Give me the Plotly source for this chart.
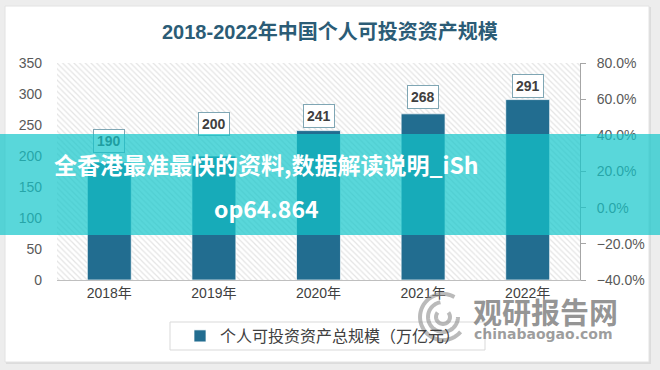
import numpy as np
import plotly.graph_objects as go

# ---------------- data ----------------
years = ["2018年", "2019年", "2020年", "2021年", "2022年"]
assets = [190, 200, 241, 268, 291]
left_ticks = [0, 50, 100, 150, 200, 250, 300, 350]
right_ticks = [-0.4, -0.2, 0.0, 0.2, 0.4, 0.6, 0.8]
title_text = "2018-2022年中国个人可投资资产规模"
series_name = "个人可投资资产总规模（万亿元）"
banner_line1 = "全香港最准最快的资料,数据解读说明_iSh"
banner_line2 = "op64.864"

# ---------------- layout geometry (pixels) ----------------
W, H = 660, 370
PL, PR, PT, PB = 57, 580, 63, 280   # plot area in px
pw, ph = PR - PL, PB - PT


def px(x):
    return (x - PL) / pw


def py(y):
    return (PB - y) / ph


BAR_COLOR = "#226d90"
TXT = "#404040"
TICK_FONT = dict(family="Liberation Sans, Noto Sans CJK SC", size=14, color="#595959")
label_shift = [21, 32, 15, 17, 14]  # pixel offsets of value boxes above bars

fig = go.Figure()

# hatched plot background
fig.add_trace(go.Bar(
    x=years, y=[left_ticks[-1]] * len(years), width=1,
    marker=dict(color="white", line_width=0,
                pattern=dict(shape="\\", fgcolor="#c9c9c9", size=4, solidity=0.3,
                             fillmode="overlay")),
    showlegend=False, hoverinfo="skip"))

# main bars
fig.add_trace(go.Bar(
    x=years, y=assets, width=0.42, name=series_name,
    marker=dict(color=BAR_COLOR, line=dict(color="rgba(255,255,255,0.7)", width=1)),
    showlegend=True))

# invisible trace on the secondary (percentage) axis
fig.add_trace(go.Scatter(x=years, y=[None] * len(years), yaxis="y2",
                         mode="lines", showlegend=False, hoverinfo="skip"))

shapes = []
# card shadow + card
shapes.append(dict(type="rect", xref="paper", yref="paper", layer="below",
                   x0=px(6), x1=px(651), y0=py(364), y1=py(7),
                   fillcolor="#dcdcdc", line_width=0))
shapes.append(dict(type="rect", xref="paper", yref="paper", layer="below",
                   x0=px(5), x1=px(649), y0=py(362), y1=py(6),
                   fillcolor="white", line=dict(color="#e2e2e2", width=1)))
# legend frame
shapes.append(dict(type="rect", xref="paper", yref="paper", layer="above",
                   x0=px(170), x1=px(485), y0=py(350), y1=py(322),
                   fillcolor="rgba(0,0,0,0)", line=dict(color="#d9d9d9", width=1)))

# watermark logo (swirl arcs)
cx, cy = 443, 317
for r, a0, a1 in [(23, 60, 320), (15, 100, 360), (7, 140, 400)]:
    t = np.radians(np.linspace(a0, a1, 40))
    xs = cx + r * np.cos(t)
    ys = cy - r * np.sin(t)
    path = "M " + " L ".join(f"{px(a):.4f},{py(b):.4f}" for a, b in zip(xs, ys))
    shapes.append(dict(type="path", xref="paper", yref="paper", layer="above",
                       path=path, line=dict(color="rgba(140,140,140,0.6)", width=4)))

annotations = []
# title
annotations.append(dict(xref="paper", yref="paper", x=px(330), y=py(32),
                        xanchor="center", yanchor="middle", showarrow=False,
                        text="<b>" + title_text + "</b>",
                        font=dict(family="Liberation Sans, Noto Sans CJK SC", size=20,
                                  color="#2b5c76")))
# value labels
for yr, v, s in zip(years, assets, label_shift):
    annotations.append(dict(x=yr, y=v, xref="x", yref="y", yshift=s,
                            xanchor="center", yanchor="middle", showarrow=False,
                            text=f"<b>{v}</b>",
                            font=dict(family="Liberation Sans", size=14, color=TXT),
                            bgcolor="white", bordercolor="#7fa6b4", borderwidth=1,
                            borderpad=3))
# banner background
annotations.append(dict(xref="paper", yref="paper", x=px(330), y=py(184.5),
                        xanchor="center", yanchor="middle", showarrow=False,
                        text=" ", width=W, height=101, borderpad=0, borderwidth=0,
                        bgcolor="rgba(19,198,202,0.70)",
                        font=dict(size=10, color="white")))
# banner text
for txt, yy in [(banner_line1, 164), (banner_line2, 208)]:
    annotations.append(dict(xref="paper", yref="paper", x=px(266), y=py(yy),
                            xanchor="center", yanchor="middle", showarrow=False,
                            text="<b>" + txt + "</b>",
                            font=dict(family="Noto Sans CJK SC", size=23, color="white")))
# watermark text
annotations.append(dict(xref="paper", yref="paper", x=px(545), y=py(311),
                        xanchor="center", yanchor="middle", showarrow=False,
                        text="<b>观研报告网</b>",
                        font=dict(family="Noto Sans CJK SC", size=29,
                                  color="rgba(120,120,120,0.78)")))
annotations.append(dict(xref="paper", yref="paper", x=px(543), y=py(334),
                        xanchor="center", yanchor="middle", showarrow=False,
                        text="<b>chinabaogao.com</b>",
                        font=dict(family="DejaVu Sans", size=14,
                                  color="rgba(120,120,120,0.72)")))

fig.update_layout(
    width=W, height=H,
    margin=dict(l=PL, r=W - PR, t=PT, b=H - PB),
    paper_bgcolor="#ededed", plot_bgcolor="white",
    barmode="overlay",
    xaxis=dict(type="category", range=[-0.5, 4.5], showline=True, linecolor="#bfbfbf",
               linewidth=1, ticks="", showgrid=False, zeroline=False,
               tickfont=dict(family="Liberation Sans, Noto Sans CJK SC", size=14, color=TXT)),
    yaxis=dict(range=[0, 350], tickvals=left_ticks, showgrid=False, showline=False,
               zeroline=False, ticks="", tickfont=TICK_FONT, ticklabelstandoff=14),
    yaxis2=dict(overlaying="y", side="right", range=[-0.4, 0.8], tickvals=right_ticks,
                tickformat=".1%", showline=True, linecolor="#a6a6a6", linewidth=1,
                ticks="outside", ticklen=5, tickcolor="#a6a6a6", showgrid=False,
                zeroline=False, tickfont=TICK_FONT, ticklabelstandoff=8),
    legend=dict(x=px(180), y=py(336), xanchor="left", yanchor="middle",
                orientation="h", bgcolor="rgba(0,0,0,0)", borderwidth=0,
                font=dict(family="Noto Sans CJK SC", size=16, color=TXT)),
    shapes=shapes, annotations=annotations,
)

fig.write_html("out.html",
               config={"displayModeBar": False},
               post_script="document.body.style.margin='0px';"
                           "document.body.style.background='#ededed';")
